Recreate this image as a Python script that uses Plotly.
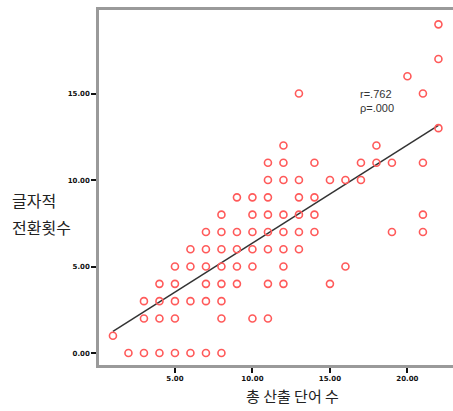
import plotly.graph_objects as go

# Data: (total words produced, letter-switch count)
points_by_y = {
    0: [2, 3, 4, 5, 6, 7, 8],
    1: [1],
    2: [3, 4, 5, 8, 10, 11],
    3: [3, 4, 5, 6, 7, 8],
    4: [4, 5, 7, 8, 9, 11, 12, 15],
    5: [5, 6, 7, 8, 9, 10, 12, 16],
    6: [6, 7, 8, 9, 10, 11, 12, 13],
    7: [7, 8, 9, 10, 11, 12, 13, 14, 19, 21],
    8: [8, 10, 11, 12, 13, 14, 21],
    9: [9, 10, 11, 13, 14],
    10: [11, 12, 13, 15, 16, 17],
    11: [11, 12, 14, 17, 18, 19, 21],
    12: [12, 18],
    13: [22],
    15: [13, 21],
    16: [20],
    17: [22],
    19: [22],
}
x_vals = [x for y, xs in points_by_y.items() for x in xs]
y_vals = [y for y, xs in points_by_y.items() for _ in xs]

# Fit line
fit_intercept = 0.69
fit_slope = 0.567
fit_x = [min(x_vals), max(x_vals)]
fit_y = [fit_intercept + fit_slope * v for v in fit_x]

tick_vals = [0, 5, 10, 15]
x_tick_vals = [5, 10, 15, 20]

fig = go.Figure()
fig.add_trace(go.Scatter(
    x=fit_x, y=fit_y, mode="lines",
    line=dict(color="#333333", width=1.5), hoverinfo="skip",
))
fig.add_trace(go.Scatter(
    x=x_vals, y=y_vals, mode="markers",
    marker=dict(symbol="circle-open", size=7, color="#ff5a5a", line=dict(width=1.6)),
))

tickfont = dict(family="DejaVu Sans", size=7, color="#111111", weight="bold")
lab_font = dict(family="Noto Sans CJK KR", size=16, color="#222222")
fig.update_layout(
    width=453, height=411,
    margin=dict(l=99, r=0, t=10, b=46),
    paper_bgcolor="white", plot_bgcolor="white",
    showlegend=False,
    xaxis=dict(
        range=[0.1, 22.94], tickvals=x_tick_vals, tickformat=".2f",
        showgrid=False, zeroline=False,
        showline=True, linecolor="#9a9a9a", linewidth=2.5, mirror=True,
        ticks="outside", ticklen=5, tickwidth=2, tickcolor="#111111",
        tickfont=tickfont,
    ),
    yaxis=dict(
        range=[-0.69, 19.83], tickvals=tick_vals, tickformat=".2f",
        showgrid=False, zeroline=False,
        showline=True, linecolor="#9a9a9a", linewidth=2.5,
        ticks="outside", ticklen=5, tickwidth=2, tickcolor="#111111",
        tickfont=tickfont,
    ),
    annotations=[
        dict(text="r=.762<br>ρ=.000", xref="paper", yref="paper",
             x=(358 - 99) / 354, y=(365 - 86) / 355, xanchor="left", yanchor="top",
             showarrow=False, align="left",
             font=dict(family="Liberation Sans", size=11, color="#333333")),
        dict(text="글자적", xref="paper", yref="paper",
             x=(10 - 99) / 354, y=(365 - 200) / 355, xanchor="left", yanchor="middle",
             showarrow=False, align="left", font=lab_font),
        dict(text="전환횟수", xref="paper", yref="paper",
             x=(10 - 99) / 354, y=(365 - 227) / 355, xanchor="left", yanchor="middle",
             showarrow=False, align="left", font=lab_font),
        dict(text="총 산출 단어 수", xref="paper", yref="paper",
             x=(292 - 99) / 354, y=(365 - 396) / 355, xanchor="center", yanchor="middle",
             showarrow=False,
             font=dict(family="Noto Sans CJK KR", size=15, color="#222222")),
    ],
)

fig.write_html(
    "out.html",
    config={"displayModeBar": False},
    post_script="document.body.style.margin='0';document.body.style.overflow='hidden';",
)
